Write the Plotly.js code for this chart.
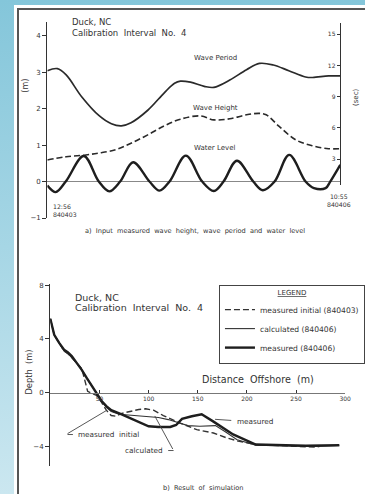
<!DOCTYPE html>
<html><head><meta charset="utf-8">
<script src="https://cdn.plot.ly/plotly-3.0.1.min.js"></script>
<style>
html,body{margin:0;padding:0;width:365px;height:494px;overflow:hidden;}
body{background:linear-gradient(to bottom,#84c6da 0%,#a6d6e5 50%,#cbe7f0 100%);position:relative;}
#panel{position:absolute;left:14px;top:5px;width:351px;height:489px;background:#fff;}
#frame{position:absolute;left:17px;top:8px;width:360px;height:500px;border-left:2px solid #555;border-top:2px solid #555;}
#chart{position:absolute;left:0;top:0;width:365px;height:494px;}
</style></head><body>
<div id="panel"></div><div id="frame"></div><div id="chart"></div>
<script>
// ---------- (a) input time series (hours after 12:56 840403) ----------
const periodHours   = [0, 2.4, 4.5, 8.2, 12.3, 15.3, 17.7, 20, 24, 28, 30.4, 31.8, 34.2, 37.5, 39.8, 43.6, 47.6, 50.7, 54, 57.7, 61.7, 63.4, 67.2, 70];
const wavePeriodSec = [11.5, 11.7, 11.1, 9.0, 7.2, 6.4, 6.2, 6.5, 7.7, 9.4, 10.3, 10.5, 10.4, 10.0, 9.9, 10.6, 11.6, 12.2, 12.05, 11.5, 10.9, 10.85, 11.0, 11.0];

const heightHours   = [0, 4.5, 9.2, 12.3, 16.3, 20, 24, 28, 31.8, 36.5, 39.8, 43.6, 47.6, 50.7, 52.3, 55.4, 59.4, 63.4, 67.2, 70];
const waveHeightM   = [0.59, 0.68, 0.73, 0.78, 0.87, 1.05, 1.28, 1.53, 1.71, 1.80, 1.69, 1.72, 1.83, 1.87, 1.83, 1.51, 1.14, 0.98, 0.90, 0.90];

const levelHours    = [0, 2.0, 4.4, 8.7, 12.3, 14.8, 17.4, 20.5, 24.4, 26.8, 29.2, 33.1, 37.0, 39.8, 42.1, 45.3, 49.2, 51.5, 54.3, 57.8, 61.7, 63.7, 66.5, 67.6, 70];
const waterLevelM   = [-0.11, -0.29, 0, 0.70, 0, -0.27, 0, 0.53, 0, -0.25, 0, 0.71, 0, -0.26, 0, 0.57, 0, -0.24, 0, 0.73, 0, -0.18, -0.18, 0, 0.46];

const leftTicksM    = [-1, 0, 1, 2, 3, 4];
const rightTicksSec = [3, 6, 9, 12, 15];
const startLabel    = ['12:56', '840403'];
const endLabel      = ['10:55', '840406'];

// ---------- (b) profiles: distance offshore (m) vs depth (m) ----------
const distInitial  = [0, 4, 9, 14, 18, 22, 27, 32, 38, 47, 52, 57, 62, 67, 72, 80, 90, 97, 105, 115, 130, 149, 166, 179, 191, 209, 240, 265, 270, 274];
const depthInitial = [5.5, 4.3, 3.7, 3.1, 2.9, 2.6, 2.2, 1.8, 0.1, -0.2, -0.7, -1.3, -1.7, -1.75, -1.55, -1.4, -1.25, -1.2, -1.3, -1.7, -2.2, -2.75, -3.0, -3.35, -3.6, -3.85, -3.95, -4.0, -4.05, -3.98];

const distCalc     = [0, 4, 9, 14, 18, 22, 27, 32, 37, 42, 47, 52, 57, 62, 70, 80, 90, 100, 110, 120, 130, 140, 152, 168, 178, 190, 209, 240, 270, 294];
const depthCalc    = [5.5, 4.3, 3.7, 3.1, 2.9, 2.6, 2.2, 1.7, 1.1, 0.5, -0.1, -0.6, -1.1, -1.4, -1.6, -1.65, -1.75, -1.8, -1.85, -2.0, -2.2, -2.45, -2.5, -2.45, -2.9, -3.5, -3.9, -3.95, -4.0, -3.95];

const distMeas     = [0, 4, 9, 14, 18, 22, 27, 32, 37, 42, 47, 52, 57, 62, 72, 82, 92, 100, 110, 122, 128, 134, 144, 154, 166, 186, 209, 230, 260, 294];
const depthMeas    = [5.5, 4.3, 3.7, 3.2, 3.0, 2.7, 2.2, 1.7, 1.1, 0.5, -0.1, -0.6, -1.0, -1.3, -1.6, -1.9, -2.25, -2.5, -2.55, -2.55, -2.4, -1.95, -1.75, -1.6, -2.15, -3.1, -3.85, -3.9, -3.95, -3.9];

const distTicks    = [50, 100, 150, 200, 250, 300];
const depthTicks   = [-4, 0, 4, 8];
const legendNames  = ['measured initial (840403)', 'calculated (840406)', 'measured (840406)'];

// ---------- helpers (page pixel -> paper fraction) ----------
const W = 365, H = 494;
const px = x => x / W;
const py = y => 1 - y / H;
const FONT = 'DejaVu Sans, sans-serif';
const INK = '#333';

const traces = [
  {x: periodHours, y: wavePeriodSec, xaxis: 'x', yaxis: 'y2', mode: 'lines', showlegend: false,
   line: {color: '#2a2a2a', width: 1.7, shape: 'spline', smoothing: 1}, hoverinfo: 'skip'},
  {x: heightHours, y: waveHeightM, xaxis: 'x', yaxis: 'y', mode: 'lines', showlegend: false,
   line: {color: '#2a2a2a', width: 1.6, dash: '6px,3px', shape: 'spline', smoothing: 1}, hoverinfo: 'skip'},
  {x: levelHours, y: waterLevelM, xaxis: 'x', yaxis: 'y', mode: 'lines', showlegend: false,
   line: {color: '#1e1e1e', width: 2.4, shape: 'spline', smoothing: 1}, hoverinfo: 'skip'},
  {x: distInitial, y: depthInitial, xaxis: 'x2', yaxis: 'y3', mode: 'lines', name: legendNames[0],
   line: {color: '#333', width: 1.4, dash: '6px,3px'}, hoverinfo: 'skip'},
  {x: distCalc, y: depthCalc, xaxis: 'x2', yaxis: 'y3', mode: 'lines', name: legendNames[1],
   line: {color: '#333', width: 1.1}, hoverinfo: 'skip'},
  {x: distMeas, y: depthMeas, xaxis: 'x2', yaxis: 'y3', mode: 'lines', name: legendNames[2],
   line: {color: '#1e1e1e', width: 2.4}, hoverinfo: 'skip'}
];

const txt = (text, x, y, opts) => Object.assign({text, x, y, xref: 'paper', yref: 'paper',
  showarrow: false, xanchor: 'left', yanchor: 'middle', font: {size: 8, color: INK, family: FONT}}, opts || {});
const leader = (x, y, ax, ay) => ({text: '', x, y, ax, ay, xref: 'x2', yref: 'y3', axref: 'x2', ayref: 'y3',
  showarrow: true, arrowhead: 0, arrowwidth: 0.9, arrowcolor: '#444', standoff: 0, startstandoff: 0});
const f = s => ({size: s, color: INK, family: FONT});

const annotations = [
  txt('Duck, NC', px(71), py(22), {font: f(8.5)}),
  txt('Calibration  Interval  No.  4', px(71), py(33), {font: f(8.5)}),
  txt('Wave Period', 40.2, 3.40, {xref: 'x', yref: 'y', xanchor: 'center', font: f(7)}),
  txt('Wave Height', 40.2, 2.03, {xref: 'x', yref: 'y', xanchor: 'center', font: f(7)}),
  txt('Water Level', 40.0, 0.93, {xref: 'x', yref: 'y', xanchor: 'center', font: f(7)}),
  txt(startLabel.join('<br>'), px(52), py(210), {align: 'left', font: f(6.2)}),
  txt(endLabel.join('<br>'), px(344), py(200), {xanchor: 'center', align: 'center', font: f(6.2)}),
  txt('(m)', px(26), py(86), {xanchor: 'center', textangle: -90, font: f(8)}),
  txt('(sec)', px(361), py(97), {xanchor: 'center', textangle: -90, font: f(7)}),
  txt('a)  Input  measured  wave  height,  wave  period  and  water  level', px(197.5), py(231), {xanchor: 'center', font: f(6.6)}),

  txt('Duck, NC', px(74), py(297), {font: f(9.5)}),
  txt('Calibration  Interval  No.  4', px(74), py(307.5), {font: f(9.5)}),
  txt('Distance  Offshore  (m)', px(262), py(379), {xanchor: 'center', font: f(9.6)}),
  txt('Depth  (m)', px(29), py(372), {xanchor: 'center', textangle: -90, font: f(8.3)}),
  txt('b)  Result  of  simulation', px(206), py(488), {xanchor: 'center', font: f(6.6)}),

  txt('measured', 187.6, -2.16, {xref: 'x2', yref: 'y3', font: f(7.3)}),
  txt('measured  initial', 26, -3.09, {xref: 'x2', yref: 'y3', font: f(7.3)}),
  txt('calculated', 117, -4.31, {xref: 'x2', yref: 'y3', xanchor: 'right', font: f(7.3)}),
  leader(167.6, -1.98, 185.6, -2.07),
  leader(57.2, -1.32, 16, -3.11),
  leader(23, -3.11, 16, -3.11),
  leader(125.4, -4.30, 118.4, -4.30),
  leader(106.3, -1.73, 125.4, -4.30)
];

const axisBase = {showgrid: false, color: INK, linecolor: INK, tickcolor: INK, fixedrange: true,
  tickfont: f(7)};

const layout = {
  width: W, height: H,
  margin: {l: 0, r: 0, t: 0, b: 0},
  paper_bgcolor: 'rgba(0,0,0,0)', plot_bgcolor: 'rgba(0,0,0,0)',
  font: {family: FONT, color: INK, size: 7},
  xaxis: Object.assign({}, axisBase, {domain: [px(48), px(345)], range: [0, 70], showline: false,
    showticklabels: false, ticks: '', zeroline: false}),
  yaxis: Object.assign({}, axisBase, {domain: [py(218), py(22)], range: [-1.0, 4.375], anchor: 'x',
    showline: true, linewidth: 1.2, ticks: 'outside', ticklen: 4, tickwidth: 1, tickvals: leftTicksM,
    zeroline: true, zerolinecolor: '#888', zerolinewidth: 1}),
  yaxis2: Object.assign({}, axisBase, {domain: [py(185), py(23)], range: [0.51, 16.09], anchor: 'x', side: 'right',
    showline: true, linewidth: 1.2, ticks: 'inside', ticklabelposition: 'inside', ticklen: 3, tickwidth: 1,
    tickvals: rightTicksSec, zeroline: false, tickfont: f(6)}),
  xaxis2: Object.assign({}, axisBase, {domain: [px(51), px(350)], range: [0, 300], anchor: 'free', position: py(392.7),
    showline: true, linecolor: '#777', linewidth: 1, ticks: 'inside', ticklen: 3, tickwidth: 1, tickvals: distTicks,
    zeroline: false, tickfont: f(6)}),
  yaxis3: Object.assign({}, axisBase, {domain: [py(466), py(284)], range: [-5.45, 8.08], anchor: 'x2',
    showline: true, linewidth: 1.2, ticks: 'outside', ticklen: 4, tickwidth: 1, tickvals: depthTicks, zeroline: false}),
  showlegend: true,
  legend: {x: px(222), y: py(285), xanchor: 'left', yanchor: 'top', bgcolor: '#fff', bordercolor: '#444', borderwidth: 1,
    font: f(7.6), tracegroupgap: 0, itemwidth: 30,
    title: {text: '<u>LEGEND</u>', side: 'top center', font: f(7)}},
  annotations
};

Plotly.newPlot('chart', traces, layout, {staticPlot: true, displayModeBar: false});
</script></body></html>
